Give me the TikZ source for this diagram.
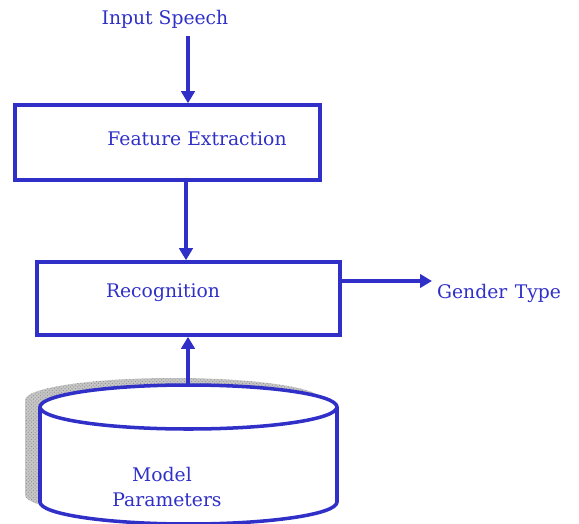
\documentclass[tikz,border=0pt]{standalone}
\usepackage{xcolor}
\usepackage{fontspec}
\setmainfont{DejaVu Serif}
\usetikzlibrary{arrows.meta, calc, patterns}
\definecolor{flowblue}{RGB}{48,48,200}
\begin{document}
\begin{tikzpicture}[x=0.03cm, y=-0.03cm, >={Triangle[length=3.6mm, width=4mm]},
    every node/.style={font=\fontsize{16}{19}\selectfont, text=flowblue},
    blockbox/.style={draw=flowblue, line width=3pt, inner sep=0pt},
    flow/.style={->, draw=flowblue, line width=3pt}]
  \useasboundingbox (0,0) rectangle (579,524);
  \coordinate (axis) at (188,0);
  % blocks
  \node[blockbox, minimum width=305*0.03cm, minimum height=75*0.03cm] (feat) at (167.5,142.5) {};
  \node at (197,139) {Feature Extraction};
  \node[blockbox, minimum width=303*0.03cm, minimum height=73*0.03cm] (recog) at (188.5,298.5) {};
  \node at (163,293) {Recognition};
  \node (speech) at (165,19) {Input Speech};
  \node[anchor=west] (gender) at (433,293) {Gender\hspace{0.4em}Type};
  % model store, with its grey shadow
  \begin{scope}[shift={(-15,-7)}]
    \fill[gray!45] (40,407) arc[start angle=180, end angle=360, x radius=148.5, y radius=22]
      -- (337,502) arc[start angle=0, end angle=180, x radius=148.5, y radius=22] -- cycle;
    \fill[pattern=crosshatch dots, pattern color=gray!90] (40,407) arc[start angle=180, end angle=360, x radius=148.5, y radius=22]
      -- (337,502) arc[start angle=0, end angle=180, x radius=148.5, y radius=22] -- cycle;
  \end{scope}
  \fill[white] (40,407) arc[start angle=180, end angle=360, x radius=148.5, y radius=22]
    -- (337,502) arc[start angle=0, end angle=180, x radius=148.5, y radius=22] -- cycle;
  \draw[flowblue, line width=3pt] (188.5,407) ellipse[x radius=148.5, y radius=22];
  \draw[flowblue, line width=3pt] (40,407) -- (40,502)
    arc[start angle=180, end angle=0, x radius=148.5, y radius=22] -- (337,407);
  \coordinate (dbtop) at (188,385);
  \node at (162,475) {Model};
  \node at (167,500) {Parameters};
  % connectors
  \draw[flow] ($(speech.south -| axis)+(0,4)$) -- (feat.north -| axis);
  \draw[flow] ($(feat.south -| axis)+(-2,0)$) -- ($(recog.north -| axis)+(-2,0)$);
  \draw[flow] ($(recog.east)+(0,-17.5)$) -- ($(gender.west)+(-1,-12)$);
  \draw[flow] (dbtop) -- (recog.south -| dbtop);
\end{tikzpicture}
\end{document}
